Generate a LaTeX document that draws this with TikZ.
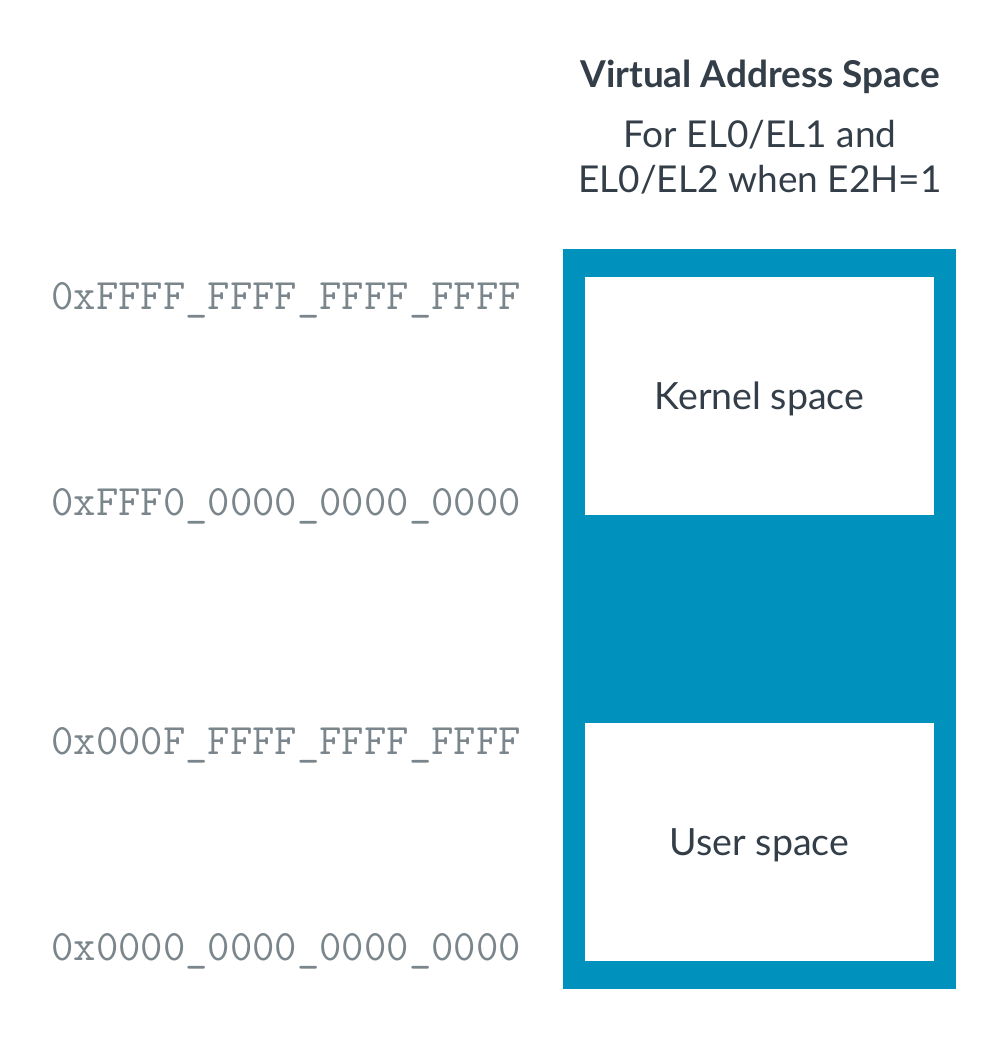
\documentclass[tikz,border=0pt]{standalone}
\usepackage{fontspec}
\setmainfont{Lato}
\definecolor{armblue}{HTML}{0091BD}
\definecolor{armtext}{HTML}{333E48}
\definecolor{addrgray}{HTML}{7B868C}
\tikzset{
  region/.style={fill=white,draw=none,minimum width=349pt,minimum height=238pt,inner sep=0pt,text depth=0pt,text=armtext,font=\fontsize{37.5}{44}\selectfont},
  addr/.style={anchor=east,inner sep=0pt,text=addrgray,font=\ttfamily\addfontfeature{FakeBold=1.2}\fontsize{43.4}{46}\selectfont}
}

\begin{document}
\begin{tikzpicture}[x=1pt,y=-1pt]
				\useasboundingbox[fill=white] (0,0) rectangle (1007,1045); % whole canvas
				% heading
				\node[text=armtext,font=\bfseries\fontsize{37}{44}\selectfont] (title) at (760,77) {Virtual Address Space};
				\node[text=armtext,align=center,font=\fontsize{37}{45}\selectfont] (subtitle) at (760,157) {For EL0/EL1 and\\EL0/EL2 when E2H=1};
				% the address space
				\node[fill=armblue,minimum width=393pt,minimum height=740pt,inner sep=0pt] (vas) at (759.5,619) {};
				\node[region] (kernel) at (759.5,396) {Kernel space};
				\node[region] (user) at (759.5,842) {User space};
				% addresses
				\node[addr] (a3) at (521,300) {0xFFFF\_FFFF\_FFFF\_FFFF};
				\node[addr] (a2) at (521,506) {0xFFF0\_0000\_0000\_0000};
				\node[addr] (a1) at (521,745) {0x000F\_FFFF\_FFFF\_FFFF};
				\node[addr] (a0) at (521,951) {0x0000\_0000\_0000\_0000};
			\end{tikzpicture}
\end{document}
